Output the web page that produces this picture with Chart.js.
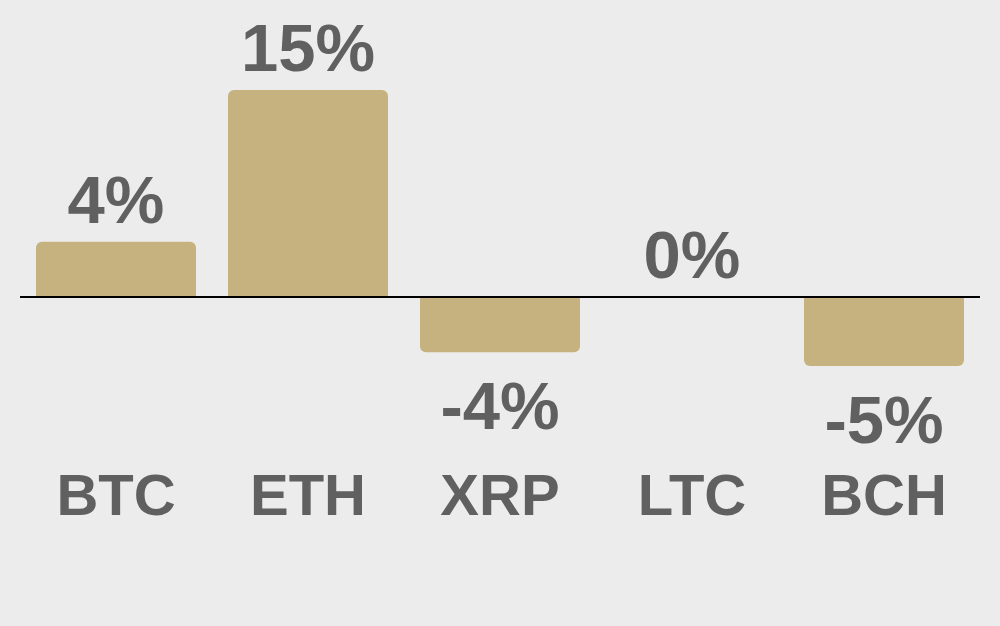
<!DOCTYPE html>
<html>
<head>
<meta charset="utf-8">
<script src="https://cdn.jsdelivr.net/npm/chart.js@4"></script>
<style>
  html, body { margin: 0; padding: 0; background: #ececec; }
  #wrap { width: 1000px; height: 626px; }
</style>
</head>
<body>
<div id="wrap"><canvas id="returnsChart" width="1000" height="626"></canvas></div>
<script>
const coins = ["BTC", "ETH", "XRP", "LTC", "BCH"];
const returns = [4, 15, -4, 0, -5];
const yRange = [-5, 15];

const barColor = "#c5b27e";
const textColor = "#606060";

// value labels above positive bars, below negative ones
const valueLabels = {
  id: "valueLabels",
  afterDatasetsDraw(chart) {
    const ctx = chart.ctx;
    const meta = chart.getDatasetMeta(0);
    ctx.save();
    ctx.font = "bold 67px 'Liberation Sans', Arial, sans-serif";
    ctx.fillStyle = textColor;
    ctx.textAlign = "center";
    ctx.textBaseline = "alphabetic";
    meta.data.forEach((bar, i) => {
      const v = returns[i];
      const y = v >= 0 ? bar.y - 19 : bar.y + 77;
      ctx.fillText(Math.round(v) + "%", bar.x, y);
    });
    ctx.restore();
  },
};

new Chart(document.getElementById("returnsChart"), {
  type: "bar",
  data: {
    labels: coins,
    datasets: [
      {
        data: returns,
        backgroundColor: barColor,
        borderRadius: 6,
        borderSkipped: "start",
        categoryPercentage: 1,
        barPercentage: 160 / 192,
      },
    ],
  },
  options: {
    responsive: false,
    animation: false,
    devicePixelRatio: 1,
    layout: { padding: { top: 90, left: 20, right: 20, bottom: 95 } },
    plugins: { legend: { display: false }, tooltip: { enabled: false } },
    scales: {
      x: {
        grid: { display: false, drawTicks: false },
        border: { display: false },
        ticks: {
          padding: 98,
          color: textColor,
          font: { family: "'Liberation Sans', Arial, sans-serif", size: 58, weight: "bold" },
        },
        afterFit(scale) {
          scale.paddingLeft = 0;
          scale.paddingRight = 0;
          scale.height = 165;
        },
      },
      y: {
        min: yRange[0],
        max: yRange[1],
        border: { display: false },
        ticks: { display: false },
        grid: {
          drawTicks: false,
          color: (c) => (c.tick && c.tick.value === 0 ? "#000000" : "rgba(0,0,0,0)"),
          lineWidth: 2,
        },
        afterFit(scale) {
          scale.width = 0;
        },
      },
    },
  },
  plugins: [valueLabels],
});
</script>
</body>
</html>
